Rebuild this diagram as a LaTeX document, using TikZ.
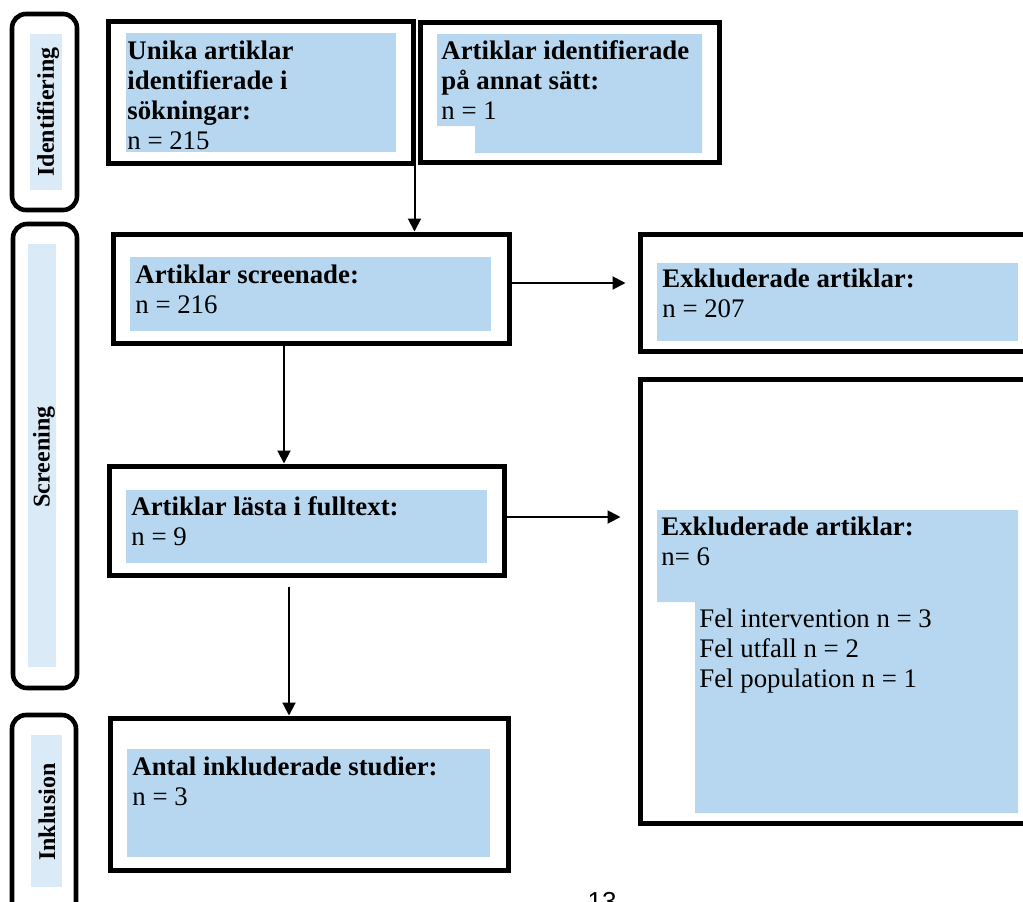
\documentclass[tikz,border=0pt]{standalone}
\usepackage{fontspec}
\setmainfont{Liberation Serif}
\newfontfamily\pagefont{Liberation Sans}
\usetikzlibrary{arrows.meta,fit}
\definecolor{fillblue}{RGB}{182,215,239}
\definecolor{sideblue}{RGB}{218,234,247}

\begin{document}
\begin{tikzpicture}[
  x=0.5pt,y=-0.5pt,
  every node/.style={font=\fontsize{13.4}{14.9}\selectfont},
  box/.style={draw,line width=2.5pt,inner sep=0pt,fit={#1}},
  phase/.style={draw,line width=2.3pt,rounded corners=7pt,inner sep=0pt,fit={#1}},
  shade/.style={fill=fillblue},
  lite/.style={fill=sideblue},
  txt/.style={anchor=base west,align=left,inner sep=0pt},
  side/.style={rotate=90,inner sep=0pt,font=\fontsize{12}{14}\selectfont\bfseries},
  arr/.style={line width=1pt,-{Triangle[length=6.5pt,width=6.5pt]}}]

\clip (0,0) rectangle (1023,901);

% ---- phase column ----
\node[phase={(12,14) (77,210)}]  (ident) {};
\node[phase={(13,224) (77,688)}] (scr)   {};
\node[phase={(12,715) (76,930)}] (inkl)  {};
\fill[lite] (30,34) rectangle (62,190);
\fill[lite] (28,244) rectangle (56,667);
\fill[lite] (31,735) rectangle (62,887);
\node[side] (identtxt) at (48,112) {Identifiering};
\node[side] (scrtxt)   at (44,457) {Screening};
\node[side] (inkltxt)  at (47,812) {Inklusion};

% ---- main column (text nodes sit on their last baseline) ----
\node[box={(108,21) (413,163)}]  (unika)  {};
\node[box={(420,22) (719,162)}]  (annat)  {};
\node[box={(113,234) (509,343)}] (screen) {};
\node[box={(109,466) (504,575)}] (full)   {};
\node[box={(110,718) (508,870)}] (antal)  {};
\fill[shade] (126,33) rectangle (396,152);
\fill[shade] (437,34) -- (702,34) -- (702,153) -- (475,153) -- (475,126) -- (437,126) -- cycle;
\fill[shade] (130,257) rectangle (491,331);
\fill[shade] (126,490) rectangle (487,563);
\fill[shade] (127,749) rectangle (490,857);
\node[txt] (unikatxt) at (127,149)
  {\textbf{Unika artiklar}\\\textbf{identifierade i}\\\textbf{sökningar:}\\n = 215};
\node[txt] (annattxt) at (441,119)
  {\textbf{Artiklar identifierade}\\\textbf{på annat sätt:}\\n = 1};
\node[txt] (screentxt) at (135,313) {\textbf{Artiklar screenade:}\\n = 216};
\node[txt] (fulltxt)   at (131,545) {\textbf{Artiklar lästa i fulltext:}\\n = 9};
\node[txt] (antaltxt)  at (132,805) {\textbf{Antal inkluderade studier:}\\n = 3};

% ---- excluded column ----
\node[box={(640,234) (1040,351)}] (excl1) {};
\node[box={(640,379) (1040,823)}] (excl2) {};
\fill[shade] (657,263) rectangle (1018,341);
\fill[shade] (657,510) -- (1018,510) -- (1018,813) -- (695,813) -- (695,602) -- (657,602) -- cycle;
\node[txt] (excl1txt) at (662,317) {\textbf{Exkluderade artiklar:}\\n = 207};
\node[txt] (excl2txt) at (661,565) {\textbf{Exkluderade artiklar:}\\n= 6};
\node[txt] (reasons)  at (699,687)
  {Fel intervention n = 3\\Fel utfall n = 2\\Fel population n = 1};

% ---- arrows ----
\coordinate (join) at (414.5,163);
\coordinate (c1) at (284,0);
\coordinate (c2) at (289,0);
\coordinate (r1) at (0,283);
\coordinate (r2) at (0,517);
\draw[arr] (join) -- (join |- screen.north);
\draw[arr] (screen.south -| c1) -- (full.north -| c1);
\draw[arr,shorten <=4.5pt] (full.south -| c2) -- (antal.north -| c2);
\draw[arr,shorten >=6pt] (screen.east |- r1) -- (excl1.west |- r1);
\draw[arr,shorten >=8.5pt] (full.east |- r2) -- (excl2.west |- r2);

% page number
\node[anchor=north,inner sep=0pt,font=\pagefont\fontsize{13}{15}\selectfont] (pg) at (602,892) {13};
\end{tikzpicture}
\end{document}
